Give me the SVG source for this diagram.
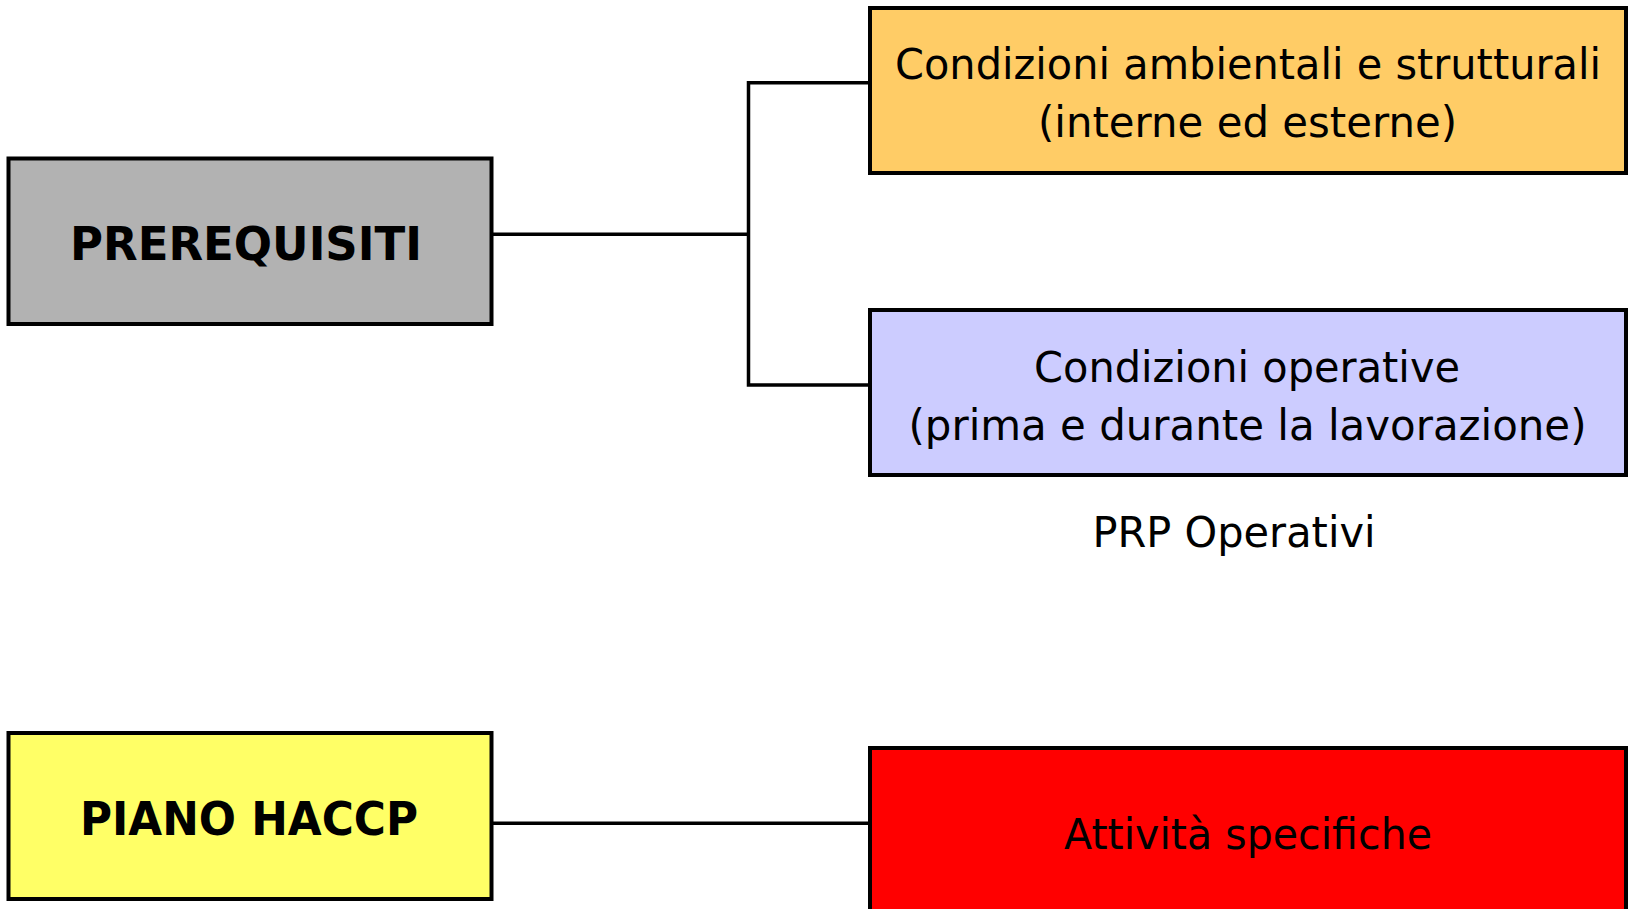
<svg xmlns="http://www.w3.org/2000/svg" width="1628" height="909" viewBox="0 0 1628 909">
  <style>
    .box { stroke: #000; stroke-width: 4; }
    .conn { stroke: #000; stroke-width: 3.5; fill: none; }
    .bold { font-family: "DejaVu Sans", Verdana, sans-serif; font-weight: bold; font-size: 46px; fill: #000; text-anchor: middle; }
    .reg { font-family: "DejaVu Sans", Verdana, sans-serif; font-size: 43px; fill: #000; text-anchor: middle; }
  </style>
  <rect width="1628" height="909" fill="#fff"/>
  <g id="connectors">
    <line class="conn" x1="491" y1="234.3" x2="748.5" y2="234.3"/>
    <path class="conn" d="M870 82.7 H748.5 V385 H870"/>
    <line class="conn" x1="491" y1="823.3" x2="870" y2="823.3"/>
  </g>
  <g id="prerequisiti">
    <rect class="box" x="8.5" y="158.5" width="483" height="165.5" fill="#B2B2B2"/>
    <text class="bold" x="246" y="260" textLength="352" lengthAdjust="spacingAndGlyphs">PREREQUISITI</text>
  </g>
  <g id="condizioni-ambientali">
    <rect class="box" x="870" y="8" width="756" height="165" fill="#FFCC66"/>
    <text class="reg" x="1248" y="78.5" textLength="706" lengthAdjust="spacingAndGlyphs">Condizioni ambientali e strutturali</text>
    <text class="reg" x="1247.5" y="136.7" textLength="419" lengthAdjust="spacingAndGlyphs">(interne ed esterne)</text>
  </g>
  <g id="condizioni-operative">
    <rect class="box" x="870" y="310" width="756" height="165" fill="#CCCCFF"/>
    <text class="reg" x="1247" y="381.7" textLength="426" lengthAdjust="spacingAndGlyphs">Condizioni operative</text>
    <text class="reg" x="1247.5" y="439.5" textLength="678" lengthAdjust="spacingAndGlyphs">(prima e durante la lavorazione)</text>
  </g>
  <g id="prp-operativi">
    <text class="reg" x="1234" y="546.7" font-size="41" textLength="283" lengthAdjust="spacingAndGlyphs">PRP Operativi</text>
  </g>
  <g id="piano-haccp">
    <rect class="box" x="8.5" y="733" width="483" height="166" fill="#FFFF66"/>
    <text class="bold" x="249" y="835" textLength="338" lengthAdjust="spacingAndGlyphs">PIANO HACCP</text>
  </g>
  <g id="attivita-specifiche">
    <rect class="box" x="870" y="748" width="756" height="175" fill="#FF0000"/>
    <text class="reg" x="1248" y="849.3" textLength="368" lengthAdjust="spacingAndGlyphs">Attività specifiche</text>
  </g>
</svg>
